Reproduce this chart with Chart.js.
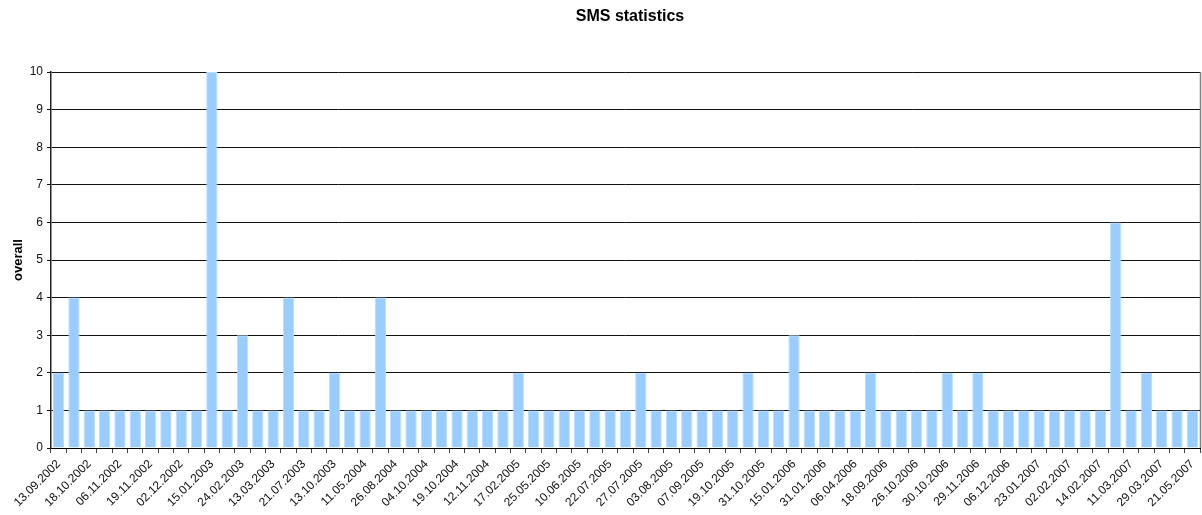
<!DOCTYPE html>
<html>
<head>
<meta charset="utf-8">
<title>SMS statistics</title>
<script src="https://cdn.jsdelivr.net/npm/chart.js@4/dist/chart.umd.min.js"></script>
<style>
  body { margin: 0; background: #fff; }
  canvas { display: block; }
</style>
</head>
<body>
<canvas id="sms-chart" width="1202" height="515"></canvas>
<script>
// dates shown under every second bar
var tickLabels = [
  "13.09.2002", "18.10.2002", "06.11.2002", "19.11.2002", "02.12.2002",
  "15.01.2003", "24.02.2003", "13.03.2003", "21.07.2003", "13.10.2003",
  "11.05.2004", "26.08.2004", "04.10.2004", "19.10.2004", "12.11.2004",
  "17.02.2005", "25.05.2005", "10.06.2005", "22.07.2005", "27.07.2005",
  "03.08.2005", "07.09.2005", "19.10.2005", "31.10.2005", "15.01.2006",
  "31.01.2006", "06.04.2006", "18.09.2006", "26.10.2006", "30.10.2006",
  "29.11.2006", "06.12.2006", "23.01.2007", "02.02.2007", "14.02.2007",
  "11.03.2007", "29.03.2007", "21.05.2007"
];

// messages per day
var overall = [
  2, 4, 1, 1, 1, 1, 1, 1, 1, 1,
  10, 1, 3, 1, 1, 4, 1, 1, 2, 1,
  1, 4, 1, 1, 1, 1, 1, 1, 1, 1,
  2, 1, 1, 1, 1, 1, 1, 1, 2, 1,
  1, 1, 1, 1, 1, 2, 1, 1, 3, 1,
  1, 1, 1, 2, 1, 1, 1, 1, 2, 1,
  2, 1, 1, 1, 1, 1, 1, 1, 1, 6,
  1, 2, 1, 1, 1
];

var yTicks = [0, 1, 2, 3, 4, 5, 6, 7, 8, 9, 10];

var categories = overall.map(function(v, i) {
  return i % 2 === 0 ? tickLabels[i / 2] : "";
});

var fontFamily = "'Liberation Sans', Arial, sans-serif";

// title and the grey frame line on the right of the plot
var framePlugin = {
  id: "frame",
  afterDraw: function(chart) {
    var c = chart.ctx;
    var a = chart.chartArea;
    c.save();
    c.strokeStyle = "#808080";
    c.lineWidth = 1.5;
    c.beginPath();
    c.moveTo(a.right + 0.5, a.top);
    c.lineTo(a.right + 0.5, a.bottom);
    c.stroke();
    c.fillStyle = "#000";
    c.font = "bold 16px " + fontFamily;
    c.textAlign = "center";
    c.textBaseline = "middle";
    c.fillText("SMS statistics", 630, 17);
    c.restore();
  }
};

new Chart(document.getElementById("sms-chart"), {
  type: "bar",
  data: {
    labels: categories,
    datasets: [{
      label: "overall",
      data: overall,
      backgroundColor: "#99ccff",
      borderColor: "#b8dcff",
      borderWidth: 1,
      categoryPercentage: 1,
      barPercentage: 0.74
    }]
  },
  options: {
    responsive: false,
    animation: false,
    layout: { padding: { top: 72, right: 2, left: 0, bottom: 0 } },
    plugins: {
      legend: { display: false },
      tooltip: { enabled: false }
    },
    scales: {
      x: {
        grid: {
          drawOnChartArea: false,
          drawTicks: true,
          tickLength: 5,
          color: "#444"
        },
        border: { color: "#000", width: 1 },
        ticks: {
          autoSkip: false,
          maxRotation: 45,
          minRotation: 45,
          padding: 4,
          color: "#111",
          font: { family: fontFamily, size: 12 }
        },
        afterFit: function(scale) {
          scale.height = 67;
          scale.paddingLeft = 0;
          scale.paddingRight = 0;
        }
      },
      y: {
        min: 0,
        max: 10,
        afterBuildTicks: function(scale) {
          scale.ticks = yTicks.map(function(v) { return { value: v }; });
        },
        grid: {
          color: "#111",
          lineWidth: 1,
          tickLength: 4
        },
        border: { color: "#222", width: 1.5 },
        ticks: {
          padding: 4,
          color: "#111",
          font: { family: fontFamily, size: 12 }
        },
        title: {
          display: true,
          text: "overall",
          color: "#000",
          padding: { top: 11, bottom: 0 },
          font: { family: fontFamily, size: 13, weight: "bold" }
        },
        afterFit: function(scale) {
          scale.width = 51;
        }
      }
    }
  },
  plugins: [framePlugin]
});
</script>
</body>
</html>
